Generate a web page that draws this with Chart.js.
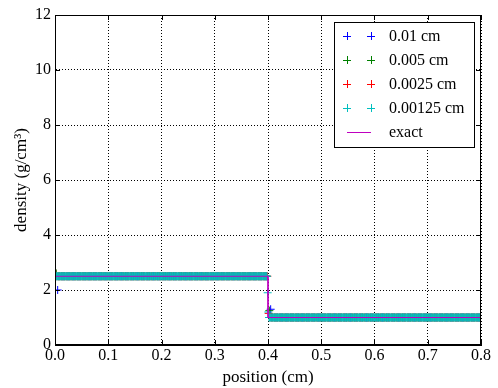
<!DOCTYPE html>
<html>
<head>
<meta charset="utf-8">
<script src="https://cdn.jsdelivr.net/npm/chart.js@4"></script>
<style>
  html, body { margin: 0; padding: 0; background: #fff; }
</style>
</head>
<body>
<canvas id="myChart" width="498" height="388"></canvas>
<script>
// grid resolution of each run (legend labels) and their colours
const seriesLabels = ["0.01 cm", "0.005 cm", "0.0025 cm", "0.00125 cm"];
const cellSizes = [0.01, 0.005, 0.0025, 0.00125];
const seriesColors = ["#0000ff", "#008000", "#ff0000", "#00bfbf"];

// states: left plateau, right plateau, first cell at the wall
const leftState = [2.5, 2.5, 2.5, 2.5];
const rightState = [1.0, 1.0, 1.0, 1.0];
const wallCellY = [2.0, 2.6, 2.6, 2.55];

// cells that sit inside the jump
const shockCellX = [[0.405], [0.4025], [0.40125], [0.399375, 0.400625]];
const shockCellY = [[1.3], [1.25], [1.15], [1.9, 1.2]];
const shockPosition = 0.4;

// exact solution
const exactX = [0, 0.4, 0.4, 0.8];
const exactY = [2.5, 2.5, 1.0, 1.0];

const xTicks = [0, 0.1, 0.2, 0.3, 0.4, 0.5, 0.6, 0.7, 0.8];
const yTicks = [0, 2, 4, 6, 8, 10, 12];

function buildSeries(i) {
    const dx = cellSizes[i];
    const n = Math.round(0.8 / dx);
    const pts = [];
    for (let k = 0; k < n; k++) {
        const x = +((k + 0.5) * dx).toFixed(6);
        let y = x < shockPosition ? leftState[i] : rightState[i];
        const j = shockCellX[i].findIndex(v => Math.abs(v - x) < dx / 4);
        if (j >= 0) y = shockCellY[i][j];
        if (k === 0) y = wallCellY[i];
        pts.push({ x: x, y: y });
    }
    return pts;
}

const datasets = seriesLabels.map((label, i) => ({
    label: label,
    data: buildSeries(i),
    showLine: false,
    pointStyle: "cross",
    pointRadius: 4,
    pointHoverRadius: 4,
    borderColor: seriesColors[i],
    backgroundColor: seriesColors[i],
    pointBorderWidth: 1,
    order: 4 - i + 1,
}));

datasets.push({
    label: "exact",
    data: exactX.map((x, i) => ({ x: x, y: exactY[i] })),
    showLine: true,
    borderColor: "#bf00bf",
    borderWidth: 1,
    pointRadius: 0,
    order: 0,
});

const FONT = "Liberation Serif";

// frame, inward ticks and matplotlib-like legend
const decorPlugin = {
    id: "decor",
    afterDraw(chart) {
        const ctx = chart.ctx;
        const a = chart.chartArea;
        const xs = chart.scales.x, ys = chart.scales.y;
        ctx.save();
        ctx.strokeStyle = "#000";
        ctx.lineWidth = 1;
        ctx.strokeRect(a.left + 0.5, a.top + 0.5, a.right - a.left - 1, a.bottom - a.top - 1);
        ctx.beginPath();
        xTicks.forEach(v => {
            const px = Math.round(xs.getPixelForValue(v)) + 0.5;
            ctx.moveTo(px, a.bottom); ctx.lineTo(px, a.bottom - 5);
            ctx.moveTo(px, a.top); ctx.lineTo(px, a.top + 5);
        });
        yTicks.forEach(v => {
            const py = Math.round(ys.getPixelForValue(v)) + 0.5;
            ctx.moveTo(a.left, py); ctx.lineTo(a.left + 5, py);
            ctx.moveTo(a.right, py); ctx.lineTo(a.right - 5, py);
        });
        ctx.stroke();

        // legend
        const bx = a.right - 147, by = a.top + 7, bw = 140, bh = 125;
        ctx.fillStyle = "#fff";
        ctx.fillRect(bx, by, bw, bh);
        ctx.strokeRect(bx + 0.5, by + 0.5, bw, bh);
        const rows = seriesLabels.concat(["exact"]);
        ctx.font = "16px '" + FONT + "'";
        ctx.textBaseline = "middle";
        rows.forEach((label, i) => {
            const y = by + 14 + i * 24;
            const m1 = bx + 13, m2 = bx + 37;
            ctx.beginPath();
            if (i < 4) {
                ctx.strokeStyle = seriesColors[i];
                [m1, m2].forEach(mx => {
                    ctx.moveTo(mx - 4, y + 0.5); ctx.lineTo(mx + 4, y + 0.5);
                    ctx.moveTo(mx + 0.5, y - 4); ctx.lineTo(mx + 0.5, y + 4);
                });
            } else {
                ctx.strokeStyle = "#bf00bf";
                ctx.moveTo(m1, y + 0.5); ctx.lineTo(m2, y + 0.5);
            }
            ctx.stroke();
            ctx.fillStyle = "#000";
            ctx.fillText(label, bx + 55, y + 1);
        });
        ctx.restore();
    },
};

new Chart(document.getElementById("myChart"), {
    type: "scatter",
    data: { datasets: datasets },
    options: {
        responsive: false,
        animation: false,
        devicePixelRatio: 1,
        layout: { padding: { top: 15, right: 17, left: 0, bottom: 0 } },
        plugins: { legend: { display: false }, tooltip: { enabled: false } },
        scales: {
            x: {
                type: "linear",
                min: 0,
                max: 0.8,
                afterFit(scale) { scale.height = 43; },
                afterBuildTicks(scale) { scale.ticks = xTicks.map(v => ({ value: v })); },
                ticks: {
                    color: "#000",
                    padding: 1,
                    maxRotation: 0,
                    font: { family: FONT, size: 16 },
                    callback: v => v.toFixed(1),
                },
                grid: { color: "#000", lineWidth: 1, drawTicks: false },
                border: { display: true, color: "#000", dash: [1, 2] },
                title: {
                    display: true,
                    text: "position (cm)",
                    color: "#000",
                    font: { family: FONT, size: 17 },
                    padding: { top: 0, bottom: 0 },
                },
            },
            y: {
                type: "linear",
                min: 0,
                max: 12,
                afterFit(scale) { scale.width = 55; },
                afterBuildTicks(scale) { scale.ticks = yTicks.map(v => ({ value: v })); },
                ticks: {
                    color: "#000",
                    padding: 4,
                    font: { family: FONT, size: 16 },
                },
                grid: { color: "#000", lineWidth: 1, drawTicks: false },
                border: { display: true, color: "#000", dash: [1, 2] },
                title: {
                    display: true,
                    text: "density (g/cm\u00b3)",
                    color: "#000",
                    font: { family: FONT, size: 17 },
                    padding: { top: 11, bottom: 0 },
                },
            },
        },
    },
    plugins: [decorPlugin],
});
</script>
</body>
</html>
